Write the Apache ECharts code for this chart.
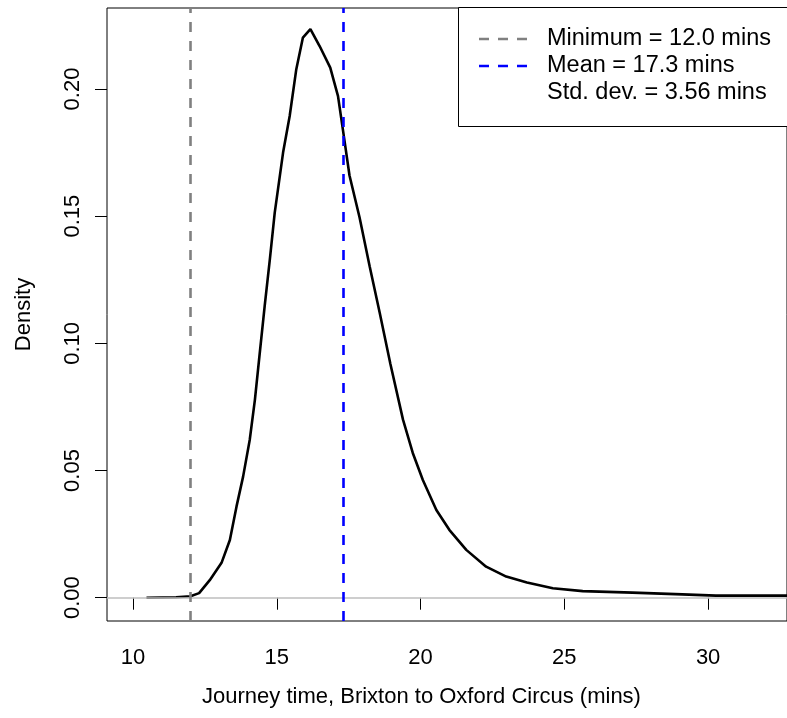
<!DOCTYPE html>
<html>
<head>
<meta charset="utf-8">
<script src="https://cdn.jsdelivr.net/npm/echarts@6/dist/echarts.min.js"></script>
<style>html,body{margin:0;padding:0;background:#fff;}#chart{width:787px;height:718px;}</style>
</head>
<body>
<div id="chart"></div>
<script>
// Density curve (journey time in mins, density)
var journeyTimes = [10.47, 11.0, 11.5, 12.0, 12.3, 12.67, 13.08, 13.37, 13.6, 13.83, 14.06, 14.24, 14.41, 14.58, 14.76, 14.93, 15.22, 15.45, 15.68, 15.91, 16.17, 16.49, 16.86, 17.13, 17.3, 17.53, 17.88, 18.23, 18.58, 18.95, 19.39, 19.73, 20.08, 20.55, 21.0, 21.59, 22.28, 22.98, 23.7, 24.6, 25.64, 27.37, 29.1, 30.27, 32.7, 33.5];
var densities = [0.0000, 0.0001, 0.0002, 0.0006, 0.0018, 0.0069, 0.0137, 0.0227, 0.0358, 0.0476, 0.0620, 0.0778, 0.0963, 0.1146, 0.1330, 0.1514, 0.1750, 0.1894, 0.2078, 0.2202, 0.2235, 0.2169, 0.2084, 0.1972, 0.1840, 0.1660, 0.1495, 0.1303, 0.1120, 0.0920, 0.0700, 0.0569, 0.0463, 0.0345, 0.0267, 0.0188, 0.0122, 0.0083, 0.0060, 0.0037, 0.0026, 0.0020, 0.0013, 0.0008, 0.0008, 0.0008];
var minimumTime = 12.0;
var meanTime = 17.3;
var legendTexts = ["Minimum = 12.0 mins", "Mean = 17.3 mins", "Std. dev. = 3.56 mins"];
var xTicks = [10, 15, 20, 25, 30];
var yTicks = [0, 0.05, 0.10, 0.15, 0.20];

var FONT = '"Liberation Sans", Arial, Helvetica, sans-serif';
var chart = echarts.init(document.getElementById('chart'), null, {renderer: 'canvas'});
var pts = journeyTimes.map(function (x, i) { return [x, densities[i]]; });

var option = {
  animation: false,
  backgroundColor: '#ffffff',
  grid: {left: 107, top: 8, width: 681, height: 613, show: true, borderColor: '#000', borderWidth: 1, backgroundColor: 'transparent'},
  xAxis: {
    type: 'value', min: 9.0972, max: 32.743,
    name: 'Journey time, Brixton to Oxford Circus (mins)',
    nameLocation: 'middle', nameGap: 65,
    nameTextStyle: {fontFamily: FONT, fontSize: 22, color: '#000', padding: [0, 51, 0, 0]},
    axisLine: {show: false},
    axisTick: {show: true, inside: false, length: 12, customValues: xTicks, lineStyle: {color: '#000', width: 1}},
    axisLabel: {customValues: xTicks, margin: 26, fontFamily: FONT, fontSize: 22, color: '#000'},
    splitLine: {show: false}
  },
  yAxis: {
    type: 'value', min: -0.00916, max: 0.23184,
    name: 'Density', nameLocation: 'middle', nameGap: 72, nameRotate: 90,
    nameTextStyle: {fontFamily: FONT, fontSize: 22, color: '#000'},
    axisLine: {show: false},
    axisTick: {show: true, inside: false, length: 12, customValues: yTicks, lineStyle: {color: '#000', width: 1}},
    axisLabel: {customValues: yTicks, rotate: 90, margin: 23, fontFamily: FONT, fontSize: 22, color: '#000',
      formatter: function (v) { return v.toFixed(2); }},
    splitLine: {show: false}
  },
  series: [
    {
      type: 'line', data: [], z: 1,
      markLine: {silent: true, symbol: ['none', 'none'], label: {show: false},
        data: [{yAxis: 0, lineStyle: {color: '#bebebe', width: 1.5, type: 'solid'}}]}
    },
    {
      type: 'line', data: pts, z: 2, showSymbol: false, smooth: false, clip: true,
      lineStyle: {color: '#000', width: 2.6}
    },
    {
      type: 'line', data: [], z: 3,
      markLine: {silent: true, symbol: ['none', 'none'], label: {show: false},
        data: [
          {xAxis: minimumTime, lineStyle: {color: '#808080', width: 2.6, type: [10, 9]}},
          {xAxis: meanTime, lineStyle: {color: '#0000ff', width: 2.6, type: [10, 9]}}
        ]}
    }
  ],
  graphic: [
    {type: 'rect', left: 458, top: 7, z: 100, shape: {width: 340, height: 119}, style: {fill: '#fff', stroke: '#000', lineWidth: 1}},
    {type: 'line', z: 101, shape: {x1: 479, y1: 39, x2: 527, y2: 39}, style: {stroke: '#808080', lineWidth: 2.6, lineDash: [10, 9]}},
    {type: 'line', z: 101, shape: {x1: 479, y1: 66, x2: 527, y2: 66}, style: {stroke: '#0000ff', lineWidth: 2.6, lineDash: [10, 9]}},
    {type: 'text', z: 101, x: 547, y: 39, style: {text: legendTexts[0], font: '23.5px ' + FONT, fill: '#000', textVerticalAlign: 'middle', verticalAlign: 'middle'}},
    {type: 'text', z: 101, x: 547, y: 66, style: {text: legendTexts[1], font: '23.5px ' + FONT, fill: '#000', textVerticalAlign: 'middle', verticalAlign: 'middle'}},
    {type: 'text', z: 101, x: 547, y: 93, style: {text: legendTexts[2], font: '23.5px ' + FONT, fill: '#000', textVerticalAlign: 'middle', verticalAlign: 'middle'}}
  ]
};
chart.setOption(option);
</script>
</body>
</html>
